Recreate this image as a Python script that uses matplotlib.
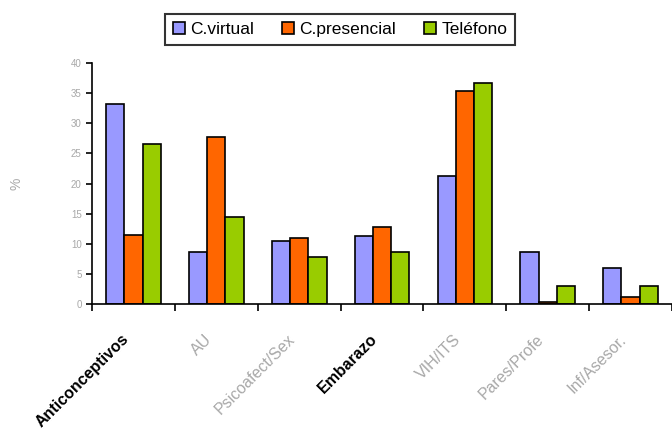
import matplotlib
matplotlib.use('Agg')
import matplotlib.pyplot as plt
import matplotlib.transforms as mtransforms
import numpy as np

plt.rcParams['font.family'] = ['Liberation Sans', 'DejaVu Sans']

categorias = ['Anticonceptivos', 'AU', 'Psicoafect/Sex', 'Embarazo', 'VIH/ITS', 'Pares/Profe', 'Inf/Asesor.']
virtual = [33.3, 8.7, 10.5, 11.3, 21.2, 8.7, 6.0]
presencial = [11.5, 27.8, 10.9, 12.8, 35.4, 0.4, 1.2]
telefono = [26.6, 14.5, 7.8, 8.7, 36.7, 3.0, 3.0]
series = ['C.virtual', 'C.presencial', 'Teléfono']
colores = ['#9999FF', '#FF6600', '#99CC00']
negrita = ['Anticonceptivos', 'Embarazo']

fig = plt.figure(figsize=(6.72, 4.33), dpi=100)
ax = fig.add_axes([0.137, 0.298, 0.863, 0.556])

x = np.arange(len(categorias))
w = 0.22
for i, (vals, nom, c) in enumerate(zip([virtual, presencial, telefono], series, colores)):
    ax.bar(x + (i - 1) * w, vals, w, color=c, edgecolor='black', linewidth=1.2, label=nom)

ax.set_xlim(-0.5, len(categorias) - 0.5)
ax.set_ylim(0, 40)
ax.set_yticks(np.arange(0, 41, 5))
ax.tick_params(axis='y', labelsize=7, labelcolor='#a8a8a8', direction='out', length=4, width=1.2)
fig.text(0.025, 0.575, '%', color='#a8a8a8', fontsize=10, rotation=90, ha='center', va='center')

# marcas entre categorias, etiquetas en el centro
ax.set_xticks(np.arange(len(categorias) + 1) - 0.5, minor=True)
ax.set_xticks(x)
ax.tick_params(axis='x', which='major', length=0, pad=20)
ax.tick_params(axis='x', which='minor', direction='out', length=5, width=1.2)
ax.set_xticklabels(categorias, rotation=45, ha='right', rotation_mode='anchor')
desplaza = mtransforms.ScaledTranslation(-12 / 100, 0, fig.dpi_scale_trans)
for lab in ax.get_xticklabels():
    lab.set_transform(lab.get_transform() + desplaza)
    if lab.get_text() in negrita:
        lab.set_fontweight('bold')
        lab.set_fontsize(11.5)
        lab.set_color('black')
    else:
        lab.set_fontsize(11.5)
        lab.set_color('#a8a8a8')

for s in ['top', 'right']:
    ax.spines[s].set_visible(False)
ax.spines['left'].set_linewidth(1.2)
ax.spines['bottom'].set_linewidth(1.2)

leg = fig.legend(loc='upper center', bbox_to_anchor=(0.506, 0.988), ncol=3, fontsize=12.5,
                 frameon=True, fancybox=False, edgecolor='black', handlelength=0.7,
                 handleheight=0.7, handletextpad=0.3, columnspacing=1.6, borderpad=0.45)
leg.get_frame().set_linewidth(1.5)

fig.savefig('out.png', dpi=100)
